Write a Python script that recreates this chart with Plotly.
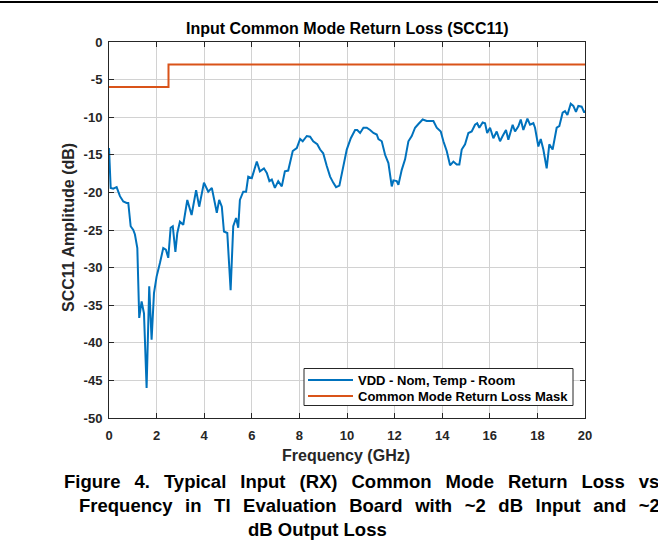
import plotly.graph_objects as go

# ---- data ----
freq_ghz = [0.0, 0.07, 0.18, 0.32, 0.46, 0.60, 0.74, 0.81, 0.91, 1.02, 1.09, 1.19, 1.27, 1.37, 1.47,
            1.58, 1.69, 1.79, 1.89, 2.00, 2.14, 2.28, 2.39, 2.49, 2.59, 2.68, 2.79, 2.87, 2.98, 3.12,
            3.29, 3.47, 3.66, 3.79, 3.99, 4.17, 4.32, 4.53, 4.63, 4.74, 4.83, 4.97, 5.11, 5.22, 5.34,
            5.43, 5.50, 5.64, 5.76, 5.85, 6.00, 6.09, 6.21, 6.34, 6.51, 6.63, 6.74, 6.84, 6.97, 7.11,
            7.26, 7.39, 7.53, 7.72, 7.89, 8.03, 8.14, 8.31, 8.45, 8.58, 8.75, 8.87, 9.00, 9.15, 9.29,
            9.42, 9.54, 9.68, 9.82, 9.99, 10.16, 10.34, 10.43, 10.55, 10.69, 10.83, 10.97, 11.11, 11.25, 11.32,
            11.46, 11.60, 11.74, 11.88, 11.95, 12.09, 12.16, 12.30, 12.44, 12.58, 12.72, 12.86, 13.00, 13.18, 13.35,
            13.49, 13.63, 13.77, 13.94, 14.05, 14.19, 14.33, 14.47, 14.61, 14.72, 14.82, 14.96, 15.10, 15.24, 15.38,
            15.47, 15.56, 15.70, 15.80, 15.89, 16.01, 16.15, 16.29, 16.43, 16.54, 16.68, 16.78, 16.96, 17.06, 17.20,
            17.30, 17.41, 17.58, 17.69, 17.83, 17.90, 18.04, 18.14, 18.25, 18.39, 18.50, 18.64, 18.81, 18.92, 19.06,
            19.16, 19.26, 19.40, 19.51, 19.62, 19.72, 19.86, 19.97, 20.0]
scc11_db = [-14.1, -19.4, -19.5, -19.3, -20.5, -21.2, -21.4, -21.4, -24.5, -25.0, -25.6, -27.4, -36.7, -34.5, -36.1,
            -46.0, -32.5, -39.6, -33.4, -31.2, -29.4, -27.4, -27.6, -28.7, -24.7, -24.5, -27.9, -25.4, -23.9, -24.3,
            -21.0, -23.0, -19.7, -21.9, -18.7, -19.9, -19.4, -22.7, -21.0, -21.9, -25.2, -25.4, -33.0, -24.5, -23.4,
            -24.7, -21.0, -19.9, -19.9, -17.9, -18.1, -17.0, -15.9, -17.2, -16.8, -17.4, -18.5, -18.3, -19.4, -18.5,
            -19.2, -17.2, -17.1, -14.5, -14.1, -12.9, -13.2, -12.5, -12.6, -13.2, -13.6, -14.3, -14.8, -16.5, -17.9,
            -18.7, -19.3, -19.1, -17.0, -14.3, -12.8, -11.7, -11.7, -12.1, -11.4, -11.4, -11.7, -12.1, -12.3, -12.9,
            -13.2, -15.0, -16.1, -19.2, -18.4, -18.5, -19.0, -17.0, -15.6, -13.2, -12.5, -11.4, -10.9, -10.3, -10.5,
            -10.5, -10.5, -11.4, -11.9, -13.2, -14.5, -16.4, -15.9, -16.3, -16.3, -14.3, -13.6, -12.1, -11.9, -11.0,
            -10.8, -11.4, -10.7, -10.8, -12.1, -11.4, -12.8, -11.9, -13.2, -12.5, -11.7, -13.0, -11.0, -11.9, -11.2,
            -10.3, -11.7, -10.2, -11.0, -10.8, -11.4, -13.9, -12.9, -14.3, -16.8, -13.6, -14.3, -11.4, -11.2, -9.4,
            -9.2, -9.7, -8.2, -8.5, -9.3, -8.5, -8.6, -9.4, -9.1]

mask_freq_ghz = [0.0, 2.5, 2.5, 20.0]
mask_db = [-6.0, -6.0, -3.0, -3.0]

x_ticks = [0, 2, 4, 6, 8, 10, 12, 14, 16, 18, 20]
y_ticks = [0, -5, -10, -15, -20, -25, -30, -35, -40, -45, -50]
x_tick_labels = [str(v) for v in x_ticks]
y_tick_labels = [str(v) for v in y_ticks]

series_names = ["VDD - Nom, Temp - Room", "Common Mode Return Loss Mask"]
series_colors = ["#0072BD", "#D95319"]
chart_title = "Input Common Mode Return Loss (SCC11)"
x_title = "Frequency (GHz)"
y_title = "SCC11 Amplitude (dB)"
caption_words = [
    ["Figure", "4.", "", "Typical", "Input", "(RX)", "Common", "Mode", "Return", "Loss", "vs"],
    ["Frequency", "in", "TI", "Evaluation", "Board", "with", "~2", "dB", "Input", "and", "~2"],
    ["dB", "Output", "Loss"],
]

# ---- layout geometry (pixels) ----
W, H = 658, 554
L, R, T, B = 109, 73, 42, 136
PW, PH = W - L - R, H - T - B


def px(x):
    return (x - L) / PW


def py(y):
    return (H - B - y) / PH


FONT = "Liberation Sans, Arial, Helvetica, sans-serif"
NB = "\u00a0"
THIN = "\u2009"

fig = go.Figure()
fig.add_trace(go.Scatter(x=freq_ghz, y=scc11_db, mode="lines", name=series_names[0],
                         line=dict(color=series_colors[0], width=2), showlegend=False))
fig.add_trace(go.Scatter(x=mask_freq_ghz, y=mask_db, mode="lines", name=series_names[1],
                         line=dict(color=series_colors[1], width=2), showlegend=False))

axis_common = dict(showgrid=True, gridcolor="#d2d2d2", gridwidth=1, zeroline=False,
                   showline=True, linecolor="#262626", linewidth=1, mirror="allticks",
                   ticks="inside", ticklen=5, tickcolor="#262626", tickmode="array",
                   tickfont=dict(family=FONT, size=13, color="#262626", weight="bold"))

fig.update_xaxes(range=[0, 20], tickvals=x_ticks, ticktext=x_tick_labels, ticklabelstandoff=5, **axis_common)
fig.update_yaxes(range=[-50, 0], tickvals=y_ticks, ticktext=y_tick_labels, ticklabelstandoff=3, **axis_common)

gap_a = NB * 2 + THIN
gap_b = NB + THIN + THIN
cap1 = gap_a.join(caption_words[0][:2]) + gap_a + gap_a.join(caption_words[0][3:])
cap2 = gap_b.join(caption_words[1])
cap3 = " ".join(caption_words[2])

CAP = dict(size=18.5, color="#000000", weight="bold")
annotations = [
    dict(text=chart_title, x=px(347), y=py(28), font=dict(size=16, color="#000000", weight="bold")),
    dict(text=x_title, x=px(346), y=py(455), font=dict(size=16, color="#262626", weight="bold")),
    dict(text=y_title, x=px(68), y=py(228), textangle=-90, font=dict(size=16, color="#262626", weight="bold")),
    dict(text=cap1, x=px(62), y=py(481), xanchor="left", font=dict(CAP)),
    dict(text=cap2, x=px(77), y=py(505), xanchor="left", font=dict(CAP)),
    dict(text=cap3, x=px(246), y=py(529), xanchor="left", font=dict(CAP)),
    dict(text=series_names[0], x=px(356), y=py(380), xanchor="left", font=dict(size=13, color="#000000", weight="bold")),
    dict(text=series_names[1], x=px(356), y=py(396), xanchor="left", font=dict(size=13, color="#000000", weight="bold")),
]
for a in annotations:
    a.setdefault("xanchor", "center")
    a.update(xref="paper", yref="paper", yanchor="middle", showarrow=False)
    a["font"]["family"] = FONT

shapes = [
    dict(type="line", x0=px(0), x1=px(W), y0=py(2), y1=py(2), line=dict(color="#000000", width=2)),
    dict(type="rect", x0=px(304), x1=px(573), y0=py(368.5), y1=py(405.5),
         fillcolor="white", line=dict(color="#262626", width=1)),
    dict(type="line", x0=px(308), x1=px(353), y0=py(380), y1=py(380), line=dict(color=series_colors[0], width=2)),
    dict(type="line", x0=px(308), x1=px(353), y0=py(396), y1=py(396), line=dict(color=series_colors[1], width=2)),
]
for s in shapes:
    s.update(xref="paper", yref="paper", layer="above")

fig.update_layout(
    width=W, height=H, margin=dict(l=L, r=R, t=T, b=B, autoexpand=False),
    paper_bgcolor="white", plot_bgcolor="white",
    font=dict(family=FONT, color="#262626"),
    annotations=annotations,
    shapes=shapes,
    showlegend=False,
)

fig.write_html("out.html", config={"displayModeBar": False},
               post_script="document.body.style.margin='0px';")
